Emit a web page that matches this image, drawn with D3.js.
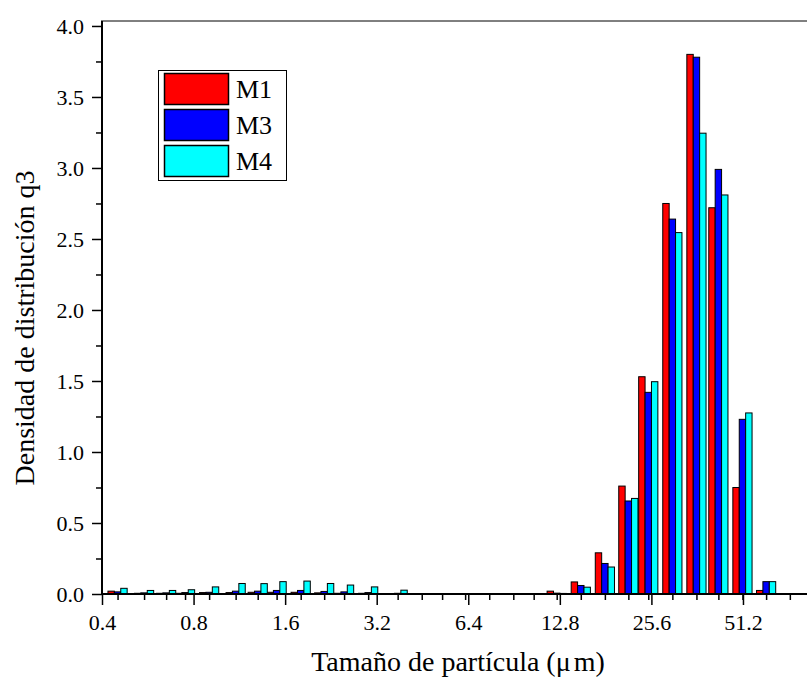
<!DOCTYPE html>
<html>
<head>
<meta charset="utf-8">
<script src="https://cdn.jsdelivr.net/npm/d3@7"></script>
<style>
  html, body { margin: 0; padding: 0; background: #fff; }
  svg { display: block; font-family: "Liberation Serif", "Times New Roman", serif; }
</style>
</head>
<body>
<svg id="chart" width="807" height="685"></svg>
<script>
// Particle size classes (µm)
const sizes = [0.45, 0.55, 0.65, 0.75, 0.9, 1.1, 1.3, 1.5, 1.8, 2.15, 2.5, 3.0, 3.75, 4.5, 5.25,
               6.25, 7.5, 9.0, 10.5, 12.5, 15, 18, 21.5, 25, 30, 36, 42.5, 51, 61, 73];

// q3 density distribution per sample
const m1 = [0.02, 0.005, 0.005, 0.005, 0.01, 0.01, 0.012, 0.012, 0.012, 0.008, 0.005, 0.005, 0.002, 0, 0,
            0, 0, 0, 0, 0.02, 0.085, 0.29, 0.76, 1.53, 2.75, 3.80, 2.72, 0.75, 0.025, 0];
const m3 = [0.015, 0.008, 0.008, 0.01, 0.012, 0.02, 0.02, 0.025, 0.025, 0.018, 0.015, 0.01, 0.005, 0, 0,
            0, 0, 0, 0, 0.006, 0.06, 0.215, 0.655, 1.42, 2.64, 3.78, 2.99, 1.23, 0.087, 0];
const m4 = [0.04, 0.025, 0.025, 0.03, 0.05, 0.074, 0.073, 0.087, 0.091, 0.074, 0.063, 0.05, 0.027, 0, 0,
            0, 0, 0, 0, 0.004, 0.048, 0.19, 0.673, 1.495, 2.545, 3.245, 2.81, 1.275, 0.087, 0];

const seriesNames = ["M1", "M3", "M4"];
const seriesColors = ["#ff0000", "#0000ff", "#00ffff"];
const xTickValues = [0.4, 0.8, 1.6, 3.2, 6.4, 12.8, 25.6, 51.2];
const yTickValues = [0, 0.5, 1.0, 1.5, 2.0, 2.5, 3.0, 3.5, 4.0];

const series = [m1, m3, m4].map((vals, i) => ({ name: seriesNames[i], color: seriesColors[i], values: vals }));

const svg = d3.select("#chart");
const plotLeft = 102, plotRight = 809, plotTop = 21, plotBottom = 594;

const x = d3.scaleLog().base(2).domain([0.4, 84.4]).range([plotLeft, plotRight]);
const y = d3.scaleLinear().domain([0, 4.035]).range([plotBottom, plotTop]);

const barW = 6.4;

// Bars: three per size class, centred on the class size
const groups = svg.append("g").attr("class", "bars");
series.forEach((s, si) => {
  groups.append("g")
    .selectAll("rect")
    .data(sizes.map((d, i) => ({ size: d, v: s.values[i] })).filter(d => d.v > 0))
    .join("rect")
    .attr("x", d => x(d.size) + (si - 1.5) * barW)
    .attr("y", d => y(d.v))
    .attr("width", barW)
    .attr("height", d => y(0) - y(d.v))
    .attr("fill", s.color)
    .attr("stroke", "#000")
    .attr("stroke-width", 1);
});

// Y axis (major + minor ticks)
const yAxis = d3.axisLeft(y).tickValues(yTickValues).tickFormat(d3.format(".1f")).tickSize(10).tickPadding(8);
const yAxisG = svg.append("g").attr("transform", `translate(${plotLeft},0)`).call(yAxis);
yAxisG.select(".domain").remove();
yAxisG.selectAll(".tick line").attr("stroke-width", 1.5);
yAxisG.selectAll(".tick text").attr("font-size", 22).attr("font-family", "Liberation Serif").attr("fill", "#000");
svg.append("g").attr("transform", `translate(${plotLeft},0)`)
  .call(d3.axisLeft(y).tickValues(d3.range(0.25, 4.0, 0.5)).tickSize(6).tickFormat(""))
  .call(g => g.select(".domain").remove())
  .selectAll(".tick line").attr("stroke-width", 1.5);

// X axis: labelled octaves plus a short tick at every size class
const xAxis = d3.axisBottom(x).tickValues(xTickValues).tickFormat(d => d.toFixed(1)).tickSize(11).tickPadding(9);
const xAxisG = svg.append("g").attr("transform", `translate(0,${plotBottom})`).call(xAxis);
xAxisG.select(".domain").remove();
xAxisG.selectAll(".tick line").attr("stroke-width", 1.5);
xAxisG.selectAll(".tick text").attr("font-size", 22).attr("font-family", "Liberation Serif").attr("fill", "#000");
svg.append("g").attr("transform", `translate(0,${plotBottom})`)
  .call(d3.axisBottom(x).tickValues(sizes).tickSize(6).tickFormat(""))
  .call(g => g.select(".domain").remove())
  .selectAll(".tick line").attr("stroke-width", 1.5);

// Frame lines: left, bottom, top
svg.append("line").attr("x1", plotLeft).attr("x2", plotLeft).attr("y1", plotTop).attr("y2", plotBottom + 1)
  .attr("stroke", "#000").attr("stroke-width", 2);
svg.append("line").attr("x1", plotLeft - 1).attr("x2", plotRight).attr("y1", plotBottom).attr("y2", plotBottom)
  .attr("stroke", "#000").attr("stroke-width", 2);
svg.append("line").attr("x1", plotLeft - 1).attr("x2", plotRight).attr("y1", plotTop).attr("y2", plotTop)
  .attr("stroke", "#000").attr("stroke-width", 1);

// Axis titles
const xTitle = svg.append("text")
  .attr("x", 458).attr("y", 671)
  .attr("text-anchor", "middle")
  .attr("font-size", 28).attr("fill", "#000");
xTitle.append("tspan").text("Tamaño de partícula (μ");
xTitle.append("tspan").attr("dx", 3).text("m)");

svg.append("text")
  .attr("transform", "translate(34,328) rotate(-90)")
  .attr("text-anchor", "middle")
  .attr("font-size", 28).attr("fill", "#000")
  .text("Densidad de distribución q3");

// Legend
const lg = svg.append("g").attr("class", "legend");
lg.append("rect").attr("x", 158.5).attr("y", 70.5).attr("width", 128).attr("height", 110)
  .attr("fill", "#fff").attr("stroke", "#000").attr("stroke-width", 1);
series.forEach((s, i) => {
  lg.append("rect")
    .attr("x", 164.5).attr("y", 73.5 + i * 36).attr("width", 64).attr("height", 31)
    .attr("fill", s.color).attr("stroke", "#000").attr("stroke-width", 1.5);
  lg.append("text")
    .attr("x", 236).attr("y", 98 + i * 36)
    .attr("font-size", 26).attr("fill", "#000")
    .text(s.name);
});
</script>
</body>
</html>
